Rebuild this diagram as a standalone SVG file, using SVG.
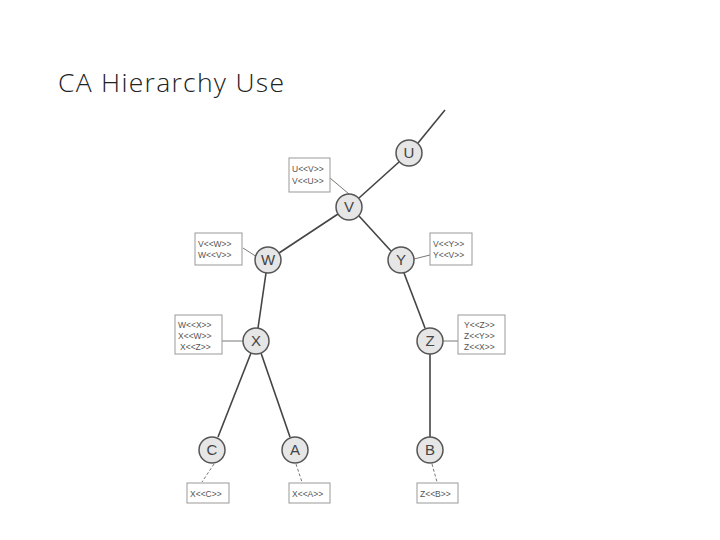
<svg xmlns="http://www.w3.org/2000/svg" width="720" height="540" viewBox="0 0 720 540">
<style>
.n circle{fill:#e6e6e6;stroke:#555;stroke-width:1.5}
.n text{font-family:"Liberation Sans",Arial,sans-serif;font-size:15px;fill:#444;text-anchor:middle}
.e{stroke:#444;stroke-width:1.6;fill:none}
.l{stroke:#555;stroke-width:0.8;fill:none}
.d{stroke:#555;stroke-width:0.8;fill:none;stroke-dasharray:3,2}
.b rect{fill:#fff;stroke:#999;stroke-width:1}
.b text{font-family:"Liberation Sans",Arial,sans-serif;font-size:8.5px;fill:#555}
</style>
<rect width="720" height="540" fill="#fff"/>
<text x="58" y="92" font-family="'Open Sans','Liberation Sans',sans-serif" font-size="26.5" font-weight="300" fill="#222" textLength="226">CA Hierarchy Use</text>
<g id="connectors">
<line class="e" x1="445" y1="110" x2="418" y2="143"/>
<line class="e" x1="399" y1="162" x2="359" y2="198"/>
<line class="e" x1="338" y1="214" x2="279" y2="253"/>
<line class="e" x1="359" y1="216" x2="391" y2="251"/>
<line class="e" x1="266" y1="273" x2="258" y2="328"/>
<line class="e" x1="404" y1="273" x2="425" y2="328"/>
<line class="e" x1="251" y1="353" x2="218" y2="437"/>
<line class="e" x1="261" y1="353" x2="290" y2="437"/>
<line class="e" x1="430" y1="354" x2="430" y2="437"/>
<line class="l" x1="330" y1="178" x2="349" y2="194"/>
<line class="l" x1="243" y1="248" x2="257" y2="257"/>
<line class="l" x1="430" y1="255" x2="414" y2="259"/>
<line class="l" x1="222" y1="341" x2="243" y2="341"/>
<line class="l" x1="443" y1="341" x2="458" y2="341"/>
<line class="d" x1="214" y1="464" x2="202" y2="482"/>
<line class="d" x1="296" y1="464" x2="302" y2="482"/>
<line class="d" x1="432" y1="464" x2="437" y2="482"/>
</g>
<g id="U" class="n"><circle cx="409" cy="153" r="13"/><text x="409" y="158">U</text></g>
<g id="V" class="n"><circle cx="349" cy="207" r="13"/><text x="349" y="212">V</text></g>
<g id="W" class="n"><circle cx="268" cy="260" r="13"/><text x="268" y="265">W</text></g>
<g id="Y" class="n"><circle cx="401" cy="260" r="13"/><text x="401" y="265">Y</text></g>
<g id="X" class="n"><circle cx="256" cy="341" r="13"/><text x="256" y="346">X</text></g>
<g id="Z" class="n"><circle cx="430" cy="341" r="13"/><text x="430" y="346">Z</text></g>
<g id="C" class="n"><circle cx="212" cy="450" r="13"/><text x="212" y="455">C</text></g>
<g id="A" class="n"><circle cx="295" cy="450" r="13"/><text x="295" y="455">A</text></g>
<g id="B" class="n"><circle cx="430" cy="450" r="13"/><text x="430" y="455">B</text></g>
<g id="boxUV" class="b"><rect x="289" y="158" width="41" height="34"/><text x="292" y="172">U&lt;&lt;V&gt;&gt;</text><text x="292" y="184">V&lt;&lt;U&gt;&gt;</text></g>
<g id="boxW" class="b"><rect x="195" y="233" width="47" height="32"/><text x="198" y="247">V&lt;&lt;W&gt;&gt;</text><text x="198" y="258">W&lt;&lt;V&gt;&gt;</text></g>
<g id="boxY" class="b"><rect x="430" y="233" width="42" height="32"/><text x="433" y="247">V&lt;&lt;Y&gt;&gt;</text><text x="433" y="258">Y&lt;&lt;V&gt;&gt;</text></g>
<g id="boxX" class="b"><rect x="175" y="315" width="47" height="39"/><text x="178" y="328">W&lt;&lt;X&gt;&gt;</text><text x="178" y="339">X&lt;&lt;W&gt;&gt;</text><text x="180" y="350">X&lt;&lt;Z&gt;&gt;</text></g>
<g id="boxZ" class="b"><rect x="458" y="315" width="47" height="39"/><text x="464" y="328">Y&lt;&lt;Z&gt;&gt;</text><text x="464" y="339">Z&lt;&lt;Y&gt;&gt;</text><text x="464" y="350">Z&lt;&lt;X&gt;&gt;</text></g>
<g id="boxC" class="b"><rect x="187" y="483" width="42" height="20"/><text x="190" y="497">X&lt;&lt;C&gt;&gt;</text></g>
<g id="boxA" class="b"><rect x="289" y="483" width="41" height="20"/><text x="292" y="497">X&lt;&lt;A&gt;&gt;</text></g>
<g id="boxB" class="b"><rect x="417" y="483" width="41" height="20"/><text x="420" y="497">Z&lt;&lt;B&gt;&gt;</text></g>
</svg>
